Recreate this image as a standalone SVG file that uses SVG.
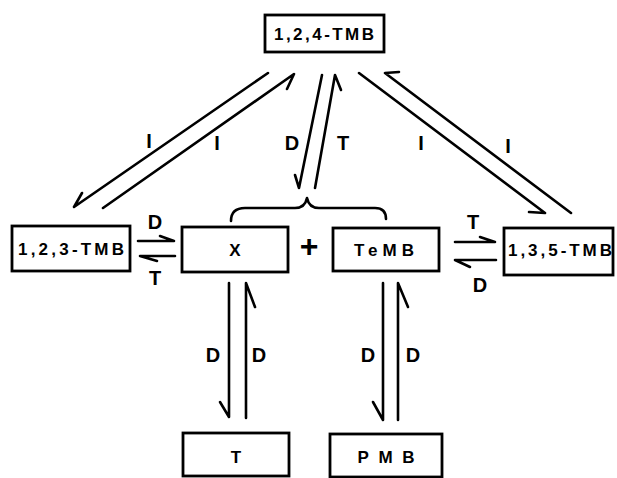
<svg xmlns="http://www.w3.org/2000/svg" width="617" height="478" viewBox="0 0 617 478">
<style>
.box{fill:#fff;stroke:#000;stroke-width:2.8}
.nt{font-family:"Liberation Sans",Arial,sans-serif;font-weight:bold;font-size:17px;text-anchor:middle}
.lb{font-family:"Liberation Sans",Arial,sans-serif;font-weight:bold;font-size:20px;text-anchor:middle}
.ln{fill:none;stroke:#000;stroke-width:2.6;stroke-linecap:round;stroke-linejoin:round}
</style>
<rect width="617" height="478" fill="#fff"/>
<g id="n124"><rect class="box" x="265" y="15" width="119" height="37"/><text class="nt" x="324" y="40" textLength="100" lengthAdjust="spacing">1,2,4-TMB</text></g>
<g id="n123"><rect class="box" x="12" y="226" width="118" height="45"/><text class="nt" x="71" y="255" font-size="18" textLength="106" lengthAdjust="spacing">1,2,3-TMB</text></g>
<g id="nX"><rect class="box" x="182" y="227" width="106" height="45"/><text class="nt" x="235" y="256" font-size="18">X</text></g>
<g id="plus"><text x="309" y="257" font-family="Liberation Sans,Arial,sans-serif" font-size="32" font-weight="bold" text-anchor="middle">+</text></g>
<g id="nTeMB"><rect class="box" x="333" y="228" width="106" height="43"/><text class="nt" x="384" y="256" textLength="60" lengthAdjust="spacing">TeMB</text></g>
<g id="n135"><rect class="box" x="504" y="228" width="109" height="47"/><text class="nt" x="560" y="256" textLength="104" lengthAdjust="spacing">1,3,5-TMB</text></g>
<g id="nT"><rect class="box" x="183" y="433" width="106" height="43"/><text class="nt" x="236" y="463" font-size="18">T</text></g>
<g id="nPMB"><rect class="box" x="330" y="434" width="112" height="43"/><text class="nt" x="386" y="463" textLength="57" lengthAdjust="spacing">PMB</text></g>
<g id="connectors">
<path class="ln" d="M268,73 L74,207 L82,193"/>
<path class="ln" d="M103,208 L294,74 L287,89"/>
<path class="ln" d="M322,75 L299,188 L295,175"/>
<path class="ln" d="M315,188 L335,75 L341,90"/>
<path class="ln" d="M359,73 L545,213 L529,212"/>
<path class="ln" d="M571,213 L385,73 L399,72"/>
<path class="ln" d="M231,221 Q231,208 245,208 L295,208 Q305,208 307,198 Q309,208 319,208 L375,208 Q386,208 386,219"/>
<path class="ln" d="M138,241 L174,241 L160,236"/>
<path class="ln" d="M175,256 L140,256 L157,261"/>
<path class="ln" d="M455,242 L495,242 L480,237"/>
<path class="ln" d="M496,260 L455,260 L470,267"/>
<path class="ln" d="M229,283 L229,417 L220,402"/>
<path class="ln" d="M246,418 L246,283 L255,307"/>
<path class="ln" d="M383,283 L383,420 L373,402"/>
<path class="ln" d="M398,420 L398,283 L408,307"/>
<text class="lb" x="149" y="148">I</text>
<text class="lb" x="217" y="150">I</text>
<text class="lb" x="292" y="150">D</text>
<text class="lb" x="343" y="150">T</text>
<text class="lb" x="421" y="150">I</text>
<text class="lb" x="508" y="153">I</text>
<text class="lb" x="155" y="229" font-size="18">D</text>
<text class="lb" x="155" y="285" font-size="18">T</text>
<text class="lb" x="473" y="229" font-size="18">T</text>
<text class="lb" x="480" y="292" font-size="18">D</text>
<text class="lb" x="213" y="362">D</text>
<text class="lb" x="259" y="362">D</text>
<text class="lb" x="368" y="362">D</text>
<text class="lb" x="413" y="362">D</text>
</g>
</svg>
